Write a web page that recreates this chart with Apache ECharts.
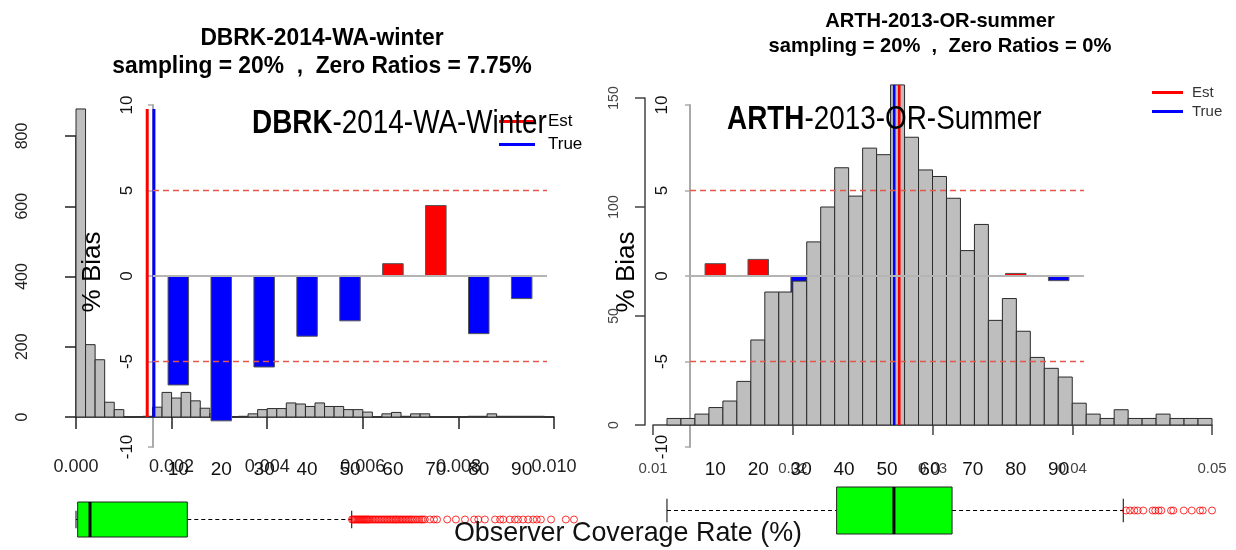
<!DOCTYPE html>
<html>
<head>
<meta charset="utf-8">
<script src="https://cdn.jsdelivr.net/npm/echarts@6/dist/echarts.min.js"></script>
<style>
  html, body { margin: 0; padding: 0; background: #fff; }
  #chart { width: 1236px; height: 550px; }
</style>
</head>
<body>
<div id="chart"></div>
<script>
const FONT = '"Liberation Sans", Arial, Helvetica, sans-serif';

// ---- DBRK-2014-WA-winter ----
const dbrkBinStart = 0;
const dbrkBinWidth = 0.0002;
const dbrkCounts = [877, 206, 163, 42, 21, 0, 0, 2, 28, 70, 54, 70, 46, 25, 9, 3, 0, 2, 9, 21,
                    24, 24, 40, 37, 30, 40, 30, 30, 21, 21, 14, 0, 9, 13, 2, 9, 9, 0, 0, 0,
                    0, 2, 2, 9, 2, 2, 2, 2, 2, 0];
const dbrkRateTicks = [0, 0.002, 0.004, 0.006, 0.008, 0.010];
const dbrkCountTicks = [0, 200, 400, 600, 800];
const dbrkEst = 0.00149;
const dbrkTrue = 0.00163;
// min, Q1, median, Q3, upper whisker
const dbrkBox = [0, 0.000033, 0.000275, 0.002186, 0.005415];
const dbrkOutliers = [0.00542, 0.00544, 0.00546, 0.00548, 0.00550, 0.00552, 0.00554, 0.00556, 0.00558,
                      0.00560, 0.00562, 0.00564, 0.00566, 0.00568, 0.00570, 0.00572, 0.00574, 0.00576,
                      0.00579, 0.00582, 0.00585, 0.00588, 0.00591, 0.00594, 0.00597, 0.00600, 0.00603,
                      0.00606, 0.00609, 0.00612, 0.00615, 0.00618, 0.00621, 0.00624, 0.00627, 0.00629,
                      0.00632, 0.00635, 0.00638, 0.00641, 0.00644, 0.00647, 0.00650, 0.00653, 0.00656,
                      0.00659, 0.00662, 0.00666, 0.00670, 0.00674, 0.00678, 0.00681, 0.00685, 0.00695,
                      0.00703, 0.00709, 0.00729, 0.00746, 0.00764, 0.00782, 0.00790, 0.00803, 0.00823,
                      0.00833, 0.00839, 0.00852, 0.00862, 0.00868, 0.00878, 0.00888, 0.00898, 0.00905,
                      0.00913, 0.00933, 0.00962, 0.00978];

// ---- ARTH-2013-OR-summer ----
const arthBinStart = 0.011;
const arthBinWidth = 0.001;
const arthCounts = [3, 3, 5, 8, 11, 20, 39, 61, 61, 66, 84, 100, 118, 105, 127, 124, 156, 132, 117, 114,
                    104, 80, 92, 48, 58, 43, 31, 26, 22, 10, 5, 3, 7, 3, 3, 5, 3, 3, 3];
const arthRateTicks = [0.01, 0.02, 0.03, 0.04, 0.05];
const arthCountTicks = [0, 50, 100, 150];
const arthEst = 0.02762;
const arthTrue = 0.02726;
const arthBox = [0.0110, 0.02314, 0.02724, 0.03140, 0.04365];
const arthOutliers = [0.04385, 0.04413, 0.04444, 0.04468, 0.04508, 0.04575, 0.04594, 0.04618,
                      0.04637, 0.04707, 0.04723, 0.04798, 0.04855, 0.04914, 0.04934, 0.05000];

// ---- % bias by observer coverage rate ----
const rateCats = [10, 20, 30, 40, 50, 60, 70, 80, 90];
const dbrkBias = [-6.4, -8.5, -5.35, -3.55, -2.65, 0.75, 4.15, -3.4, -1.35];
const arthBias = [0.75, 1.0, -1.2, 0.4, -0.3, 0.2, -0.5, 0.18, -0.3];

// ---------------------------------------------------------------
function histData(start, width, counts) {
  return counts.map((n, i) => [start + i * width, start + (i + 1) * width, n]);
}
function histItem(params, api) {
  const p0 = api.coord([api.value(0), api.value(2)]);
  const p1 = api.coord([api.value(1), 0]);
  return {
    type: 'rect',
    shape: { x: p0[0], y: p0[1], width: p1[0] - p0[0], height: p1[1] - p0[1] },
    style: { fill: '#bebebe', stroke: '#2a2a2a', lineWidth: 1 }
  };
}
function boxItem(params, api) {
  const c = api.value(0);
  const xs = [1, 2, 3, 4, 5].map(k => api.coord([api.value(k), c])[0]);
  const cy = api.coord([api.value(1), c])[1];
  const band = api.size([0, 1])[1];
  const dash = { stroke: '#000', lineWidth: 1, lineDash: [4, 3] };
  const solid = { stroke: '#000', lineWidth: 1 };
  return {
    type: 'group',
    children: [
      { type: 'line', shape: { x1: xs[0], y1: cy, x2: xs[1], y2: cy }, style: dash },
      { type: 'line', shape: { x1: xs[3], y1: cy, x2: xs[4], y2: cy }, style: dash },
      { type: 'line', shape: { x1: xs[0], y1: cy - band / 4, x2: xs[0], y2: cy + band / 4 }, style: solid },
      { type: 'line', shape: { x1: xs[4], y1: cy - band / 4, x2: xs[4], y2: cy + band / 4 }, style: solid },
      { type: 'rect', shape: { x: xs[1], y: cy - band / 2, width: xs[3] - xs[1], height: band },
        style: { fill: '#00ff00', stroke: '#222', lineWidth: 1 } },
      { type: 'line', shape: { x1: xs[2], y1: cy - band / 2, x2: xs[2], y2: cy + band / 2 },
        style: { stroke: '#000', lineWidth: 3 } }
    ]
  };
}
function biasColor(p) { return p.value[1] >= 0 ? '#ff0000' : '#0000ff'; }
function refLines() {
  const dashed = { type: [6, 4], color: '#e4574a', width: 1.3 };
  return {
    silent: true,
    symbol: ['none', 'none'],
    label: { show: false },
    data: [
      { yAxis: 0, lineStyle: { type: 'solid', color: '#b4b4b4', width: 2 } },
      { yAxis: 5, lineStyle: dashed },
      { yAxis: -5, lineStyle: dashed }
    ]
  };
}

const countAxisCommon = {
  type: 'value',
  splitLine: { show: false },
  axisLine: { show: true, lineStyle: { color: '#222', width: 1.5 } },
  axisTick: { show: true, length: 11, lineStyle: { color: '#222', width: 1.5 } }
};
const biasYAxis = (gridIndex, margin) => ({
  type: 'value', gridIndex, min: -10, max: 10, interval: 5,
  splitLine: { show: false },
  axisLine: { show: true, lineStyle: { color: '#aaaaaa', width: 2 } },
  axisTick: { show: true, length: 5, lineStyle: { color: '#aaaaaa', width: 1.5 } },
  axisLabel: { rotate: 90, fontSize: 17, fontFamily: FONT, color: '#111', margin }
});
const biasXAxis = (gridIndex) => ({
  type: 'value', gridIndex, min: 4.1, max: 95.9,
  splitLine: { show: false },
  axisLine: { show: false },
  axisTick: { show: false },
  axisLabel: { customValues: rateCats, fontSize: 19, fontFamily: FONT, color: '#111', margin: 13 }
});
const hiddenX = (gridIndex, min, max) => ({ type: 'value', gridIndex, min, max, show: false });
const hiddenCat = (gridIndex) => ({ type: 'category', gridIndex, data: ['box'], show: false });

const gridBase = { containLabel: false, outerBoundsMode: 'none' };

const option = {
  animation: false,
  backgroundColor: '#fff',
  grid: [
    Object.assign({ left: 76, top: 136, width: 478, height: 281 }, gridBase),   // 0 DBRK histogram
    Object.assign({ left: 153, top: 105, width: 394, height: 342 }, gridBase),  // 1 DBRK bias
    Object.assign({ left: 76, top: 502, width: 499, height: 35 }, gridBase),    // 2 DBRK boxplot
    Object.assign({ left: 653, top: 98, width: 559, height: 327 }, gridBase),   // 3 ARTH histogram
    Object.assign({ left: 690, top: 105, width: 394, height: 342 }, gridBase),  // 4 ARTH bias
    Object.assign({ left: 653, top: 487, width: 559, height: 47 }, gridBase)    // 5 ARTH boxplot
  ],
  xAxis: [
    {
      type: 'value', gridIndex: 0, min: 0, max: 0.01, offset: 12,
      splitLine: { show: false },
      axisLine: { show: true, lineStyle: { color: '#222', width: 1.5 } },
      axisTick: { show: true, length: 12, customValues: dbrkRateTicks, lineStyle: { color: '#222', width: 1.5 } },
      axisLabel: { customValues: dbrkRateTicks, formatter: v => v.toFixed(3), fontSize: 18, fontFamily: FONT, color: '#222', margin: 29 }
    },
    biasXAxis(1),
    hiddenX(2, 0, 0.0098),
    {
      type: 'value', gridIndex: 3, min: 0.01, max: 0.05, offset: 13,
      splitLine: { show: false },
      axisLine: { show: true, lineStyle: { color: '#444', width: 1.5 } },
      axisTick: { show: true, length: 10, customValues: arthRateTicks, lineStyle: { color: '#444', width: 1.5 } },
      axisLabel: { customValues: arthRateTicks, formatter: v => v.toFixed(2), fontSize: 15, fontFamily: FONT, color: '#444', margin: 23 }
    },
    biasXAxis(4),
    hiddenX(5, 0.01, 0.05)
  ],
  yAxis: [
    Object.assign({}, countAxisCommon, {
      gridIndex: 0, min: 0, max: 800, offset: 22,
      axisTick: Object.assign({}, countAxisCommon.axisTick, { customValues: dbrkCountTicks }),
      axisLabel: { customValues: dbrkCountTicks, rotate: 90, fontSize: 16, fontFamily: FONT, color: '#222', margin: 23 }
    }),
    biasYAxis(1, 17),
    hiddenCat(2),
    Object.assign({}, countAxisCommon, {
      gridIndex: 3, min: 0, max: 150, offset: 8,
      axisLine: { show: true, lineStyle: { color: '#444', width: 1.5 } },
      axisTick: { show: true, length: 10, customValues: arthCountTicks, lineStyle: { color: '#444', width: 1.5 } },
      axisLabel: { customValues: arthCountTicks, rotate: 90, fontSize: 14, fontFamily: FONT, color: '#444', margin: 24 }
    }),
    biasYAxis(4, 19),
    hiddenCat(5)
  ],
  legend: [
    {
      data: ['Est', 'True'], orient: 'vertical', left: 494, top: 108,
      icon: 'rect', itemWidth: 36, itemHeight: 3, itemGap: 6, selectedMode: false,
      textStyle: { fontSize: 17, fontFamily: FONT, color: '#000', padding: [0, 0, 0, 8] }
    },
    {
      data: ['Est', 'True'], orient: 'vertical', left: 1147, top: 80,
      icon: 'rect', itemWidth: 31, itemHeight: 3, itemGap: 4, selectedMode: false,
      textStyle: { fontSize: 15, fontFamily: FONT, color: '#333', padding: [0, 0, 0, 4] }
    }
  ],
  series: [
    // DBRK panel: histogram under the bias bars
    {
      type: 'custom', name: 'dbrkHist', xAxisIndex: 0, yAxisIndex: 0, z: 2, clip: false,
      renderItem: histItem, encode: { x: [0, 1], y: 2 },
      data: histData(dbrkBinStart, dbrkBinWidth, dbrkCounts)
    },
    {
      type: 'bar', name: 'dbrkBias', xAxisIndex: 1, yAxisIndex: 1, z: 3, barWidth: 21.5,
      itemStyle: { color: biasColor, borderColor: '#555', borderWidth: 1 },
      data: rateCats.map((c, i) => [c, dbrkBias[i]]),
      markLine: refLines()
    },
    {
      type: 'line', name: 'Est', xAxisIndex: 0, yAxisIndex: 0, z: 4, clip: false,
      color: '#ff0000', symbol: 'none', lineStyle: { color: '#ff0000', width: 3 },
      data: [[dbrkEst, 0], [dbrkEst, Math.max(...dbrkCounts)]]
    },
    {
      type: 'line', name: 'True', xAxisIndex: 0, yAxisIndex: 0, z: 4, clip: false,
      color: '#0000ff', symbol: 'none', lineStyle: { color: '#0000ff', width: 3 },
      data: [[dbrkTrue, 0], [dbrkTrue, Math.max(...dbrkCounts)]]
    },
    {
      type: 'custom', name: 'dbrkBox', xAxisIndex: 2, yAxisIndex: 2, z: 2, clip: false,
      renderItem: boxItem, encode: { x: [1, 2, 3, 4, 5], y: 0 },
      data: [[0].concat(dbrkBox)]
    },
    {
      type: 'scatter', name: 'dbrkOut', xAxisIndex: 2, yAxisIndex: 2, z: 3, clip: false,
      symbol: 'circle', symbolSize: 7,
      itemStyle: { color: 'rgba(0,0,0,0)', borderColor: '#ff0000', borderWidth: 1 },
      data: dbrkOutliers.map(v => [v, 0])
    },

    // ARTH panel: histogram drawn over the bias bars
    {
      type: 'bar', name: 'arthBias', xAxisIndex: 4, yAxisIndex: 4, z: 2, barWidth: 21.5,
      itemStyle: { color: biasColor, borderColor: '#555', borderWidth: 1 },
      data: rateCats.map((c, i) => [c, arthBias[i]]),
      markLine: refLines()
    },
    {
      type: 'custom', name: 'arthHist', xAxisIndex: 3, yAxisIndex: 3, z: 3, clip: false,
      renderItem: histItem, encode: { x: [0, 1], y: 2 },
      data: histData(arthBinStart, arthBinWidth, arthCounts)
    },
    {
      type: 'line', name: 'Est', xAxisIndex: 3, yAxisIndex: 3, z: 4, clip: false,
      color: '#ff0000', symbol: 'none', lineStyle: { color: '#ff0000', width: 2.6 },
      data: [[arthEst, 0], [arthEst, Math.max(...arthCounts)]]
    },
    {
      type: 'line', name: 'True', xAxisIndex: 3, yAxisIndex: 3, z: 4, clip: false,
      color: '#0000ff', symbol: 'none', lineStyle: { color: '#0000ff', width: 2.6 },
      data: [[arthTrue, 0], [arthTrue, Math.max(...arthCounts)]]
    },
    {
      type: 'custom', name: 'arthBox', xAxisIndex: 5, yAxisIndex: 5, z: 2, clip: false,
      renderItem: boxItem, encode: { x: [1, 2, 3, 4, 5], y: 0 },
      data: [[0].concat(arthBox)]
    },
    {
      type: 'scatter', name: 'arthOut', xAxisIndex: 5, yAxisIndex: 5, z: 3, clip: false,
      symbol: 'circle', symbolSize: 7,
      itemStyle: { color: 'rgba(0,0,0,0)', borderColor: '#ff0000', borderWidth: 1 },
      data: arthOutliers.map(v => [v, 0])
    }
  ],
  graphic: [
    // panel titles
    { type: 'text', x: 322, y: 38, scaleX: 0.95, z: 10,
      style: { text: 'DBRK-2014-WA-winter', fontSize: 24, fontWeight: 'bold', fontFamily: FONT, fill: '#000', textAlign: 'center', textVerticalAlign: 'middle' } },
    { type: 'text', x: 322, y: 66, scaleX: 0.95, z: 10,
      style: { text: 'sampling = 20%  ,  Zero Ratios = 7.75%', fontSize: 24, fontWeight: 'bold', fontFamily: FONT, fill: '#000', textAlign: 'center', textVerticalAlign: 'middle' } },
    { type: 'text', x: 940, y: 21, scaleX: 0.96, z: 10,
      style: { text: 'ARTH-2013-OR-summer', fontSize: 21, fontWeight: 'bold', fontFamily: FONT, fill: '#000', textAlign: 'center', textVerticalAlign: 'middle' } },
    { type: 'text', x: 940, y: 46, scaleX: 0.96, z: 10,
      style: { text: 'sampling = 20%  ,  Zero Ratios = 0%', fontSize: 21, fontWeight: 'bold', fontFamily: FONT, fill: '#000', textAlign: 'center', textVerticalAlign: 'middle' } },
    // large in-plot labels
    { type: 'text', x: 252, y: 124, scaleX: 0.82, z: 10,
      style: { text: '{b|DBRK}-2014-WA-Winter', fontSize: 34, fontFamily: FONT, fill: '#000', textAlign: 'left', textVerticalAlign: 'middle',
               rich: { b: { fontSize: 34, fontFamily: FONT, fontWeight: 'bold', fill: '#000' } } } },
    { type: 'text', x: 727, y: 120, scaleX: 0.82, z: 10,
      style: { text: '{b|ARTH}-2013-OR-Summer', fontSize: 34, fontFamily: FONT, fill: '#000', textAlign: 'left', textVerticalAlign: 'middle',
               rich: { b: { fontSize: 34, fontFamily: FONT, fontWeight: 'bold', fill: '#000' } } } },
    // bias axis titles
    { type: 'text', x: 93, y: 272, rotation: Math.PI / 2, z: 10,
      style: { text: '% Bias', fontSize: 26, fontFamily: FONT, fill: '#000', textAlign: 'center', textVerticalAlign: 'middle' } },
    { type: 'text', x: 627, y: 272, rotation: Math.PI / 2, z: 10,
      style: { text: '% Bias', fontSize: 26, fontFamily: FONT, fill: '#000', textAlign: 'center', textVerticalAlign: 'middle' } },
    // shared x title
    { type: 'text', x: 628, y: 533, scaleX: 0.96, z: 10,
      style: { text: 'Observer Coverage Rate (%)', fontSize: 28, fontFamily: FONT, fill: '#111', textAlign: 'center', textVerticalAlign: 'middle' } }
  ]
};

const chart = echarts.init(document.getElementById('chart'));
chart.setOption(option);
</script>
</body>
</html>
